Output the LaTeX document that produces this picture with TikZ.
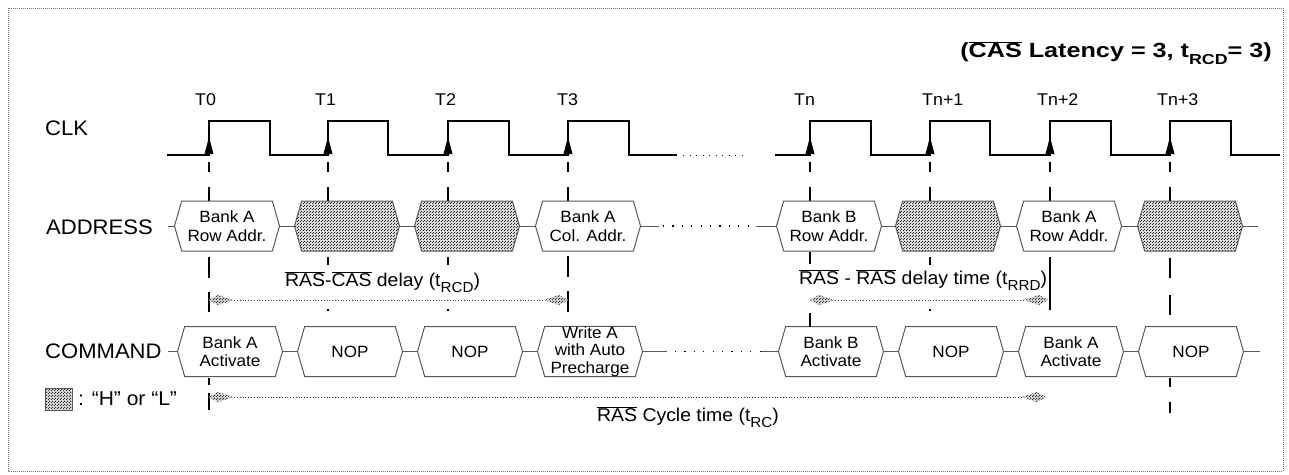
\documentclass[tikz,border=0pt]{standalone}
\usepackage{fontspec}
\setmainfont{Liberation Sans}[FakeStretch=1.05]
\usetikzlibrary{shapes.symbols,arrows.meta,patterns,calc}

% fine dot grain used for "don't care" fields
\pgfdeclarepatternformonly{hlgrain}{\pgfqpoint{0pt}{0pt}}{\pgfqpoint{3pt}{3pt}}{\pgfqpoint{3pt}{3pt}}{%
  \pgfpathrectangle{\pgfqpoint{0pt}{0pt}}{\pgfqpoint{1.1pt}{1.1pt}}%
  \pgfpathrectangle{\pgfqpoint{1.5pt}{1.5pt}}{\pgfqpoint{1.1pt}{1.1pt}}%
  \pgfusepath{fill}}

\newcommand\lblfont{\fontsize{21}{24}\selectfont}
\newcommand\tfont{\fontsize{17}{20}\selectfont}
\newcommand\boxfont{\fontsize{16.3}{18.5}\selectfont}
\newcommand\notefont{\fontsize{18.5}{22}\selectfont}
\newcommand\ovl[1]{$\overline{\hbox{#1}}$}
\newcommand\lowtxt[1]{\raisebox{-0.32em}{\fontsize{14.5}{16}\selectfont #1}}

\begin{document}
\begin{tikzpicture}[x=1pt,y=-1pt,
  clk/.style={line width=1.3pt,black},
  guide/.style={line width=1.4pt,black},
  wire/.style={line width=1pt,black!65},
  hexbox/.style={signal, signal to=east and west, signal pointer angle=148,
    minimum width=105pt, minimum height=50pt, inner sep=0pt, draw=black!65,
    line width=1pt, align=center, font=\boxfont},
  dcbox/.style={hexbox, preaction={fill=black!15}, pattern=hlgrain, pattern color=black!85},
  span/.style={line width=0.9pt, black!75, dash pattern=on 1pt off 1.8pt},
  spanhead/.pic={\path[preaction={fill=black!18}, pattern=hlgrain, pattern color=black!80]
      (0,0) -- (9,-5) -- (24,0) -- (9,5) -- cycle;},
  rowlbl/.style={anchor=west, inner sep=0pt, font=\lblfont},
  tlbl/.style={anchor=west, inner sep=0pt, font=\tfont},
  rise/.style={fill=black}
]
\useasboundingbox (0,0) rectangle (1289,474);
\draw[black!55, line width=0.8pt, dash pattern=on 1pt off 1pt] (8,8) rectangle (1283,471);

% clock edges
\def\TA{209}\def\TB{328}\def\TC{448}\def\TD{568}
\def\TE{810}\def\TF{930}\def\TG{1050}\def\TH{1170}

% ---- title note
\node[anchor=east, inner sep=0pt, font=\fontsize{20.5}{24}\selectfont\bfseries] (note) at (1272,53)
  {\scalebox{1.17}[1]{(\ovl{CAS} Latency = 3, t\lowtxt{RCD}= 3)}};

% ---- row labels
\node[rowlbl] (clklbl) at (45,128) {CLK};
\node[rowlbl] (addrlbl) at (46,227) {ADDRESS};
\node[rowlbl] (cmdlbl) at (45,351) {COMMAND};

% ---- clock labels
\node[tlbl] (l0) at (195,100) {T0};
\node[tlbl] (l1) at (315,100) {T1};
\node[tlbl] (l2) at (435,100) {T2};
\node[tlbl] (l3) at (557,100) {T3};
\node[tlbl] (ln) at (794,100) {Tn};
\node[tlbl] (ln1) at (922,100) {Tn+1};
\node[tlbl] (ln2) at (1037,100) {Tn+2};
\node[tlbl] (ln3) at (1157,100) {Tn+3};

% ---- clock waveform
\draw[clk] (167,155) -- (\TA,155) -- (\TA,121) -- (270,121) -- (270,155)
  -- (\TB,155) -- (\TB,121) -- (388,121) -- (388,155)
  -- (\TC,155) -- (\TC,121) -- (509,121) -- (509,155)
  -- (\TD,155) -- (\TD,121) -- (629,121) -- (629,155) -- (677,155);
\draw[line width=1pt, dash pattern=on 1pt off 5.5pt] (683,155) -- (748,155);
\draw[clk] (775,155) -- (\TE,155) -- (\TE,121) -- (871,121) -- (871,155)
  -- (\TF,155) -- (\TF,121) -- (990,121) -- (990,155)
  -- (\TG,155) -- (\TG,121) -- (1111,121) -- (1111,155)
  -- (\TH,155) -- (\TH,121) -- (1231,121) -- (1231,155) -- (1280,155);
\foreach \t in {\TA,\TB,\TC,\TD,\TE,\TF,\TG,\TH}{
  \fill[rise] (\t-4.5,154) -- (\t,137) -- (\t+4.5,154) -- cycle;
  \draw[guide] (\t,162) -- (\t,172);
  \draw[guide] (\t,187) -- (\t,201);
}

% ---- address bus
\node[hexbox] (a0) at (\TA+18,226) {Bank A\\Row Addr.};
\node[dcbox]  (a1) at (\TB+19,226) {};
\node[dcbox]  (a2) at (\TC+19,226) {};
\node[hexbox] (a3) at (\TD+20,226) {Bank A\\Col. Addr.};
\node[hexbox] (a4) at (\TE+19,226) {Bank B\\Row Addr.};
\node[dcbox]  (a5) at (\TF+18,226) {};
\node[hexbox] (a6) at (\TG+19,226) {Bank A\\Row Addr.};
\node[dcbox]  (a7) at (\TH+20,226) {};
\coordinate (abeg) at (168,226);
\coordinate (aend) at (1258,226);
\draw[wire] (abeg) -- (a0.west);
\draw[wire] (a0.east) -- (a1.west);
\draw[wire] (a1.east) -- (a2.west);
\draw[wire] (a2.east) -- (a3.west);
\draw[wire] (a3.east) -- ++(18,0) coordinate (ad1);
\draw[wire] (a4.west) -- ++(-20,0) coordinate (ad2);
\draw[line width=1.1pt, dash pattern=on 1.2pt off 8.2pt] ($(ad1)+(4,0)$) -- (ad2);
\draw[wire] (a4.east) -- (a5.west);
\draw[wire] (a5.east) -- (a6.west);
\draw[wire] (a6.east) -- (a7.west);
\draw[wire] (a7.east) -- (aend);

% ---- command bus
\node[hexbox] (c0) at (\TA+21,351.5) {Bank A\\Activate};
\node[hexbox] (c1) at (\TB+22,351.5) {NOP};
\node[hexbox] (c2) at (\TC+22,351.5) {NOP};
\node[hexbox, font=\fontsize{16.3}{17.5}\selectfont] (c3) at (\TD+22,351.5) {Write A\\with Auto\\Precharge};
\node[hexbox] (c4) at (\TE+21,351.5) {Bank B\\Activate};
\node[hexbox] (c5) at (\TF+21,351.5) {NOP};
\node[hexbox] (c6) at (\TG+21,351.5) {Bank A\\Activate};
\node[hexbox] (c7) at (\TH+21,351.5) {NOP};
\coordinate (cbeg) at (168,351.5);
\coordinate (cend) at (1260,351.5);
\draw[wire] (cbeg) -- (c0.west);
\draw[wire] (c0.east) -- (c1.west);
\draw[wire] (c1.east) -- (c2.west);
\draw[wire] (c2.east) -- (c3.west);
\draw[wire] (c3.east) -- ++(24,0) coordinate (cd1);
\draw[wire] (c4.west) -- ++(-18,0) coordinate (cd2);
\draw[line width=1.1pt, dash pattern=on 1.2pt off 8.2pt] ($(cd1)+(8,0)$) -- (cd2);
\draw[wire] (c4.east) -- (c5.west);
\draw[wire] (c5.east) -- (c6.west);
\draw[wire] (c6.east) -- (c7.west);
\draw[wire] (c7.east) -- (cend);

% ---- guides between address and command
\draw[guide] (\TA,257) -- (\TA,278);  \draw[guide] (\TA,292) -- (\TA,312);
\foreach \t in {\TB,\TC,\TF}{
  \draw[guide] (\t,257) -- (\t,265);
  \draw[guide] (\t,309) -- (\t,311);
}
\draw[guide] (\TD,256) -- (\TD,277);  \draw[guide] (\TD,291) -- (\TD,312);
\draw[guide] (\TE,252) -- (\TE,264);  \draw[guide] (\TE,313) -- (\TE,326.5);
\draw[guide] (\TG,257) -- (\TG,310);
\draw[guide] (\TH,258) -- (\TH,278);  \draw[guide] (\TH,295) -- (\TH,315);
% ---- guides below command
\draw[guide] (\TA,378) -- (\TA,385);  \draw[guide] (\TA,393) -- (\TA,410);
\draw[guide] (\TH,378) -- (\TH,387);  \draw[guide] (\TH,402) -- (\TH,413);

% ---- timing spans: dotted shaft with grained heads at both ends
\coordinate (rcdA) at (\TA,300);  \coordinate (rcdB) at (\TD,300);
\coordinate (rrdA) at (\TE,300);  \coordinate (rrdB) at (1048,300);
\coordinate (rcA)  at (\TA,397);  \coordinate (rcB)  at (1046,397);
\foreach \p/\q in {rcdA/rcdB, rrdA/rrdB, rcA/rcB}{
  \draw[span] (\p) -- (\q);
  \pic at (\p) {spanhead};
  \pic[xscale=-1] at (\q) {spanhead};
}
\node[anchor=west, inner sep=0pt, font=\notefont] (rcdlbl) at (285,282)
  {\ovl{RAS}-\ovl{CAS} delay (t\lowtxt{RCD})};
\node[anchor=west, inner sep=0pt, font=\notefont] (rrdlbl) at (799,280)
  {\ovl{RAS} - \ovl{RAS} delay time (t\lowtxt{RRD})};
\node[anchor=west, inner sep=0pt, font=\notefont] (rclbl) at (597,417)
  {\ovl{RAS} Cycle time (t\lowtxt{RC})};

% ---- legend
\path[preaction={fill=black!15}, pattern=hlgrain, pattern color=black!85, draw=black!65, line width=0.8pt]
  (45,388) rectangle (72,410);
\node[anchor=west, inner sep=0pt, font=\fontsize{20}{24}\selectfont] (leg) at (78,399) {: “H” or “L”};
\end{tikzpicture}
\end{document}
